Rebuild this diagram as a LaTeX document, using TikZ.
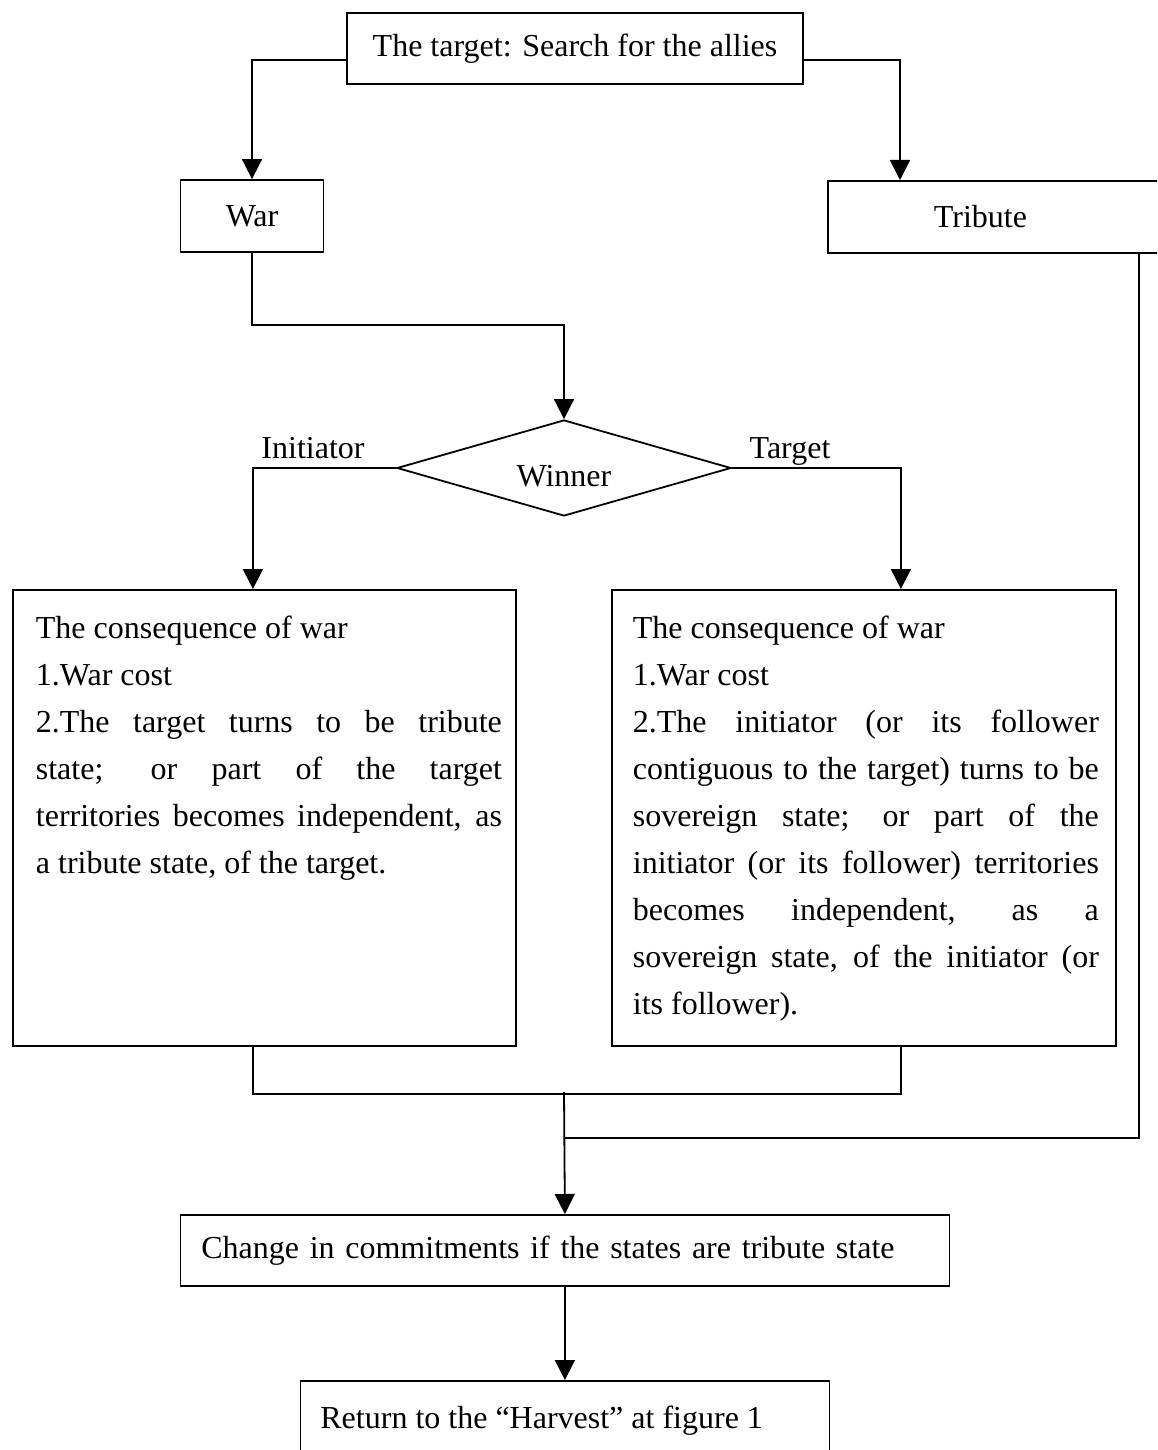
\documentclass[tikz,border=0pt]{standalone}
\usepackage{fontspec}
\setmainfont{Liberation Serif}
\usetikzlibrary{arrows.meta,shapes.geometric}
\begin{document}
\begin{tikzpicture}[x=1pt,y=-1pt,
  line width=1.8pt,
  every node/.style={font=\fontsize{32}{47}\selectfont},
  box/.style={draw, rectangle, inner sep=0pt, line width=1.8pt},
  arr/.style={-{Triangle[length=20pt,width=20pt]}},
]
\useasboundingbox (0,0) rectangle (1157,1450);
\clip (0,0) rectangle (1157,1450);

% boxes
\node[box, minimum width=456, minimum height=71] (top) at (575,48.5) {The target: Search for the allies};
\node[box, minimum width=143, minimum height=72] (war) at (252,216) {War};
\node[box, anchor=north west, minimum height=72, text width=380pt, align=left] (trib) at (827,180) {\hspace*{106pt}Tribute};

\node[draw, diamond, minimum width=334, minimum height=96, inner sep=0pt] (win) at (564,468) {};
\node (wintext) at (564,476) {Winner};
\node[anchor=base] (ini) at (313,458) {Initiator};
\node[anchor=base] (tgt) at (790,458) {Target};

\node[box, anchor=north west, inner xsep=14pt] (lb) at (12,589) {\hspace*{9pt}\parbox[t][456pt][t]{466pt}{\hyphenpenalty=10000 \tolerance=10000
\rule{0pt}{49pt}The consequence of war\\
1.War cost\\
2.The target turns to be tribute\linebreak
state; or part of the target\linebreak
territories becomes independent, as\linebreak
a tribute state, of the target.}};

\node[box, anchor=north west, inner xsep=17pt] (rb) at (611,589) {\hspace*{4pt}\parbox[t][456pt][t]{466pt}{\hyphenpenalty=10000 \tolerance=10000
\rule{0pt}{49pt}The consequence of war\\
1.War cost\\
2.The initiator (or its follower\linebreak
contiguous to the target) turns to be\linebreak
sovereign state; or part of the\linebreak
initiator (or its follower) territories\linebreak
becomes independent, as a\linebreak
sovereign state, of the initiator (or\linebreak
its follower).}};

\node[box, anchor=north west, minimum height=71, text width=769pt, align=left] (chg) at (179.5,1214) {\hspace*{21pt}Change in commitments if the states are tribute state};

\node[box, anchor=north west] (ret) at (299.5,1380) {\parbox[t][100pt][t]{529pt}{\hspace*{20pt}\rule{0pt}{48pt}Return to the “Harvest” at figure 1}};

% connectors
\draw[arr] ([yshift=-11.5pt]top.west) -| (war.north);
\draw[arr] ([yshift=-11.5pt]top.east) -| ([xshift=73pt]trib.north west);
\draw[arr] (war.south) -- ++(0,72) -| (win.north);
\draw[arr] (win.west) -| ([xshift=-11.5pt]lb.north);
\draw[arr] (win.east) -| ([xshift=37pt]rb.north);
\draw ([xshift=-11.5pt]lb.south) -- ++(0,47) -| ([xshift=37pt]rb.south);
\coordinate (j1) at (564,1092);
\coordinate (j2) at (564,1138);
\draw[arr] (j1) -- (chg.north);
\draw ([xshift=312pt]trib.south west) |- (j2);
\draw[arr] (chg.south) -- (ret.north);
\end{tikzpicture}
\end{document}
